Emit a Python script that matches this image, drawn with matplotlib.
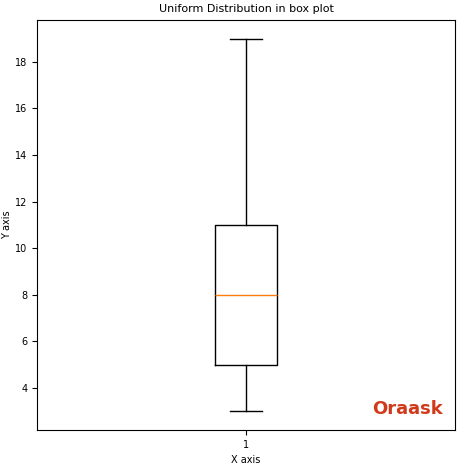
import matplotlib
matplotlib.use("Agg")
import matplotlib.pyplot as plt

# box plot statistics
whisker_low = 3
q1 = 5
median = 8
q3 = 11
whisker_high = 19

stats = [{"whislo": whisker_low, "q1": q1, "med": median, "q3": q3,
          "whishi": whisker_high, "fliers": [], "label": "1"}]

plt.rcParams["font.size"] = 7
fig = plt.figure(figsize=(4.74, 4.74), dpi=100)
ax = fig.add_axes([0.078, 0.093, 0.882, 0.865])
ax.bxp(stats, widths=0.15)
ax.set_title("Uniform Distribution in box plot", fontsize=8)
ax.set_xlabel("X axis")
ax.set_ylabel("Y axis", labelpad=2)
ax.set_ylim(2.2, 19.8)
ax.set_yticks([4, 6, 8, 10, 12, 14, 16, 18])
ax.text(0.97, 0.03, "Oraask", transform=ax.transAxes, ha="right", va="bottom",
        color="#d03a1a", fontsize=13, fontweight="bold")
fig.savefig("out.png", dpi=100)
